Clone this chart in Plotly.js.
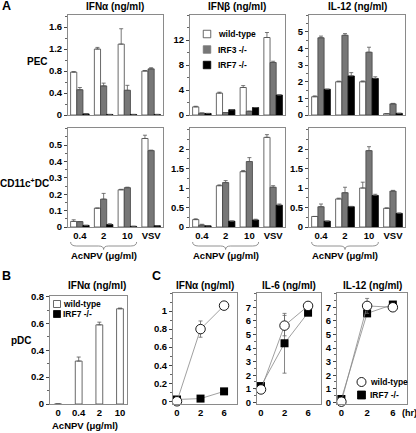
<!DOCTYPE html>
<html><head><meta charset="utf-8">
<script src="https://cdn.plot.ly/plotly-3.0.1.min.js"></script>
<style>html,body{margin:0;padding:0;background:#fff}#chart{width:416px;height:433px}</style>
</head><body><div id="chart"></div>
<script>
// ---------- DATA ----------
const doses = ['0.4', '2', '10', 'VSV'];
// PEC
const pecIfnaWt = [0.78, 1.20, 1.29, 0.80];   const pecIfnaWtErr = [0.01, 0.03, 0.28, 0.01];
const pecIfnaIrf3 = [0.46, 0.53, 0.45, 0.84]; const pecIfnaIrf3Err = [0.04, 0.05, 0.09, 0.02];
const pecIfnaIrf7 = [0.02, 0.01, 0.01, 0.01]; const pecIfnaIrf7Err = [0, 0, 0, 0];
const pecIfnbWt = [1.3, 3.5, 4.4, 12.4];      const pecIfnbWtErr = [0.1, 0.15, 0.3, 0.8];
const pecIfnbIrf3 = [0.3, 0.4, 0.6, 8.4];     const pecIfnbIrf3Err = [0, 0, 0, 0.2];
const pecIfnbIrf7 = [0.25, 0.85, 1.2, 3.2];   const pecIfnbIrf7Err = [0, 0, 0, 0];
const pecIl12Wt = [1.1, 2.0, 2.0, 0.08];      const pecIl12WtErr = [0.05, 0.04, 0.05, 0];
const pecIl12Irf3 = [4.65, 4.8, 3.78, 0.67];  const pecIl12Irf3Err = [0.1, 0.1, 0.3, 0.03];
const pecIl12Irf7 = [1.55, 2.35, 2.2, 0.1];   const pecIl12Irf7Err = [0, 0.2, 0.1, 0];
// CD11c+ DC
const dcIfnaWt = [0.034, 0.115, 0.227, 0.54];  const dcIfnaWtErr = [0.01, 0, 0.003, 0.02];
const dcIfnaIrf3 = [0.033, 0.17, 0.24, 0.466]; const dcIfnaIrf3Err = [0, 0.035, 0.003, 0.003];
const dcIfnaIrf7 = [0.01, 0.015, 0.004, 0.008];const dcIfnaIrf7Err = [0, 0.005, 0, 0];
const dcIfnbWt = [0.19, 1.06, 1.42, 2.3];      const dcIfnbWtErr = [0.02, 0.02, 0.03, 0.07];
const dcIfnbIrf3 = [0.05, 1.14, 1.68, 1.02];   const dcIfnbIrf3Err = [0.02, 0.05, 0.1, 0.04];
const dcIfnbIrf7 = [0.03, 0.15, 0.18, 0.56];   const dcIfnbIrf7Err = [0, 0, 0.02, 0.03];
const dcIl12Wt = [0.27, 0.72, 1.0, 0.48];      const dcIl12WtErr = [0, 0.02, 0.15, 0.01];
const dcIl12Irf3 = [0.52, 0.88, 1.96, 0.92];   const dcIl12Irf3Err = [0.07, 0.14, 0.1, 0.02];
const dcIl12Irf7 = [0.15, 0.52, 0.81, 0.35];   const dcIl12Irf7Err = [0, 0.01, 0.03, 0.01];
// B: pDC
const pdcDoses = ['0', '0.4', '2', '10'];
const pdcIfnaWt = [0, 0.32, 0.59, 0.71];       const pdcIfnaWtErr = [0, 0.03, 0.02, 0.005];
// C: time course
const hours = ['0', '2', '6'];
const cIfnaWt = [0.0, 0.80, 1.06];   const cIfnaWtErr = [0, 0.09, 0.03];
const cIfnaIrf7 = [0.02, 0.03, 0.11]; const cIfnaIrf7Err = [0, 0, 0];
const cIl6Wt = [0.95, 5.65, 7.1];    const cIl6WtErr = [0, 0.75, 0];
const cIl6Irf7 = [1.2, 4.35, 6.6];   const cIl6Irf7Err = [0, 2.2, 0.1];
const cIl12Wt = [0.05, 7.1, 7.0];    const cIl12WtErr = [0, 0.55, 0];
const cIl12Irf7 = [0.25, 6.55, 7.2]; const cIl12Irf7Err = [0, 0, 0.2];

// ---------- LAYOUT HELPERS ----------
const FONT = '"Liberation Sans", Arial, Helvetica, sans-serif';
const W = 416, H = 433;
const fx = v => v / W, fy = v => 1 - v / H;
const bf = (s) => ({family: FONT, size: s, color: '#000', weight: 'bold'});
const traces = [];
const layout = {
  width: W, height: H, margin: {l: 0, r: 0, t: 0, b: 0},
  paper_bgcolor: '#fff', plot_bgcolor: '#fff', showlegend: false,
  barmode: 'group', bargap: 0.22, bargroupgap: 0,
  font: {family: FONT, size: 10}, annotations: [], shapes: []
};
function ann(text, x, y, size, xanchor, extra) {
  layout.annotations.push(Object.assign({text, x: fx(x), y: fy(y), xref: 'paper', yref: 'paper',
    xanchor: xanchor || 'center', yanchor: 'middle', showarrow: false, font: bf(size)}, extra || {}));
}
function axes(n, xpx, ypx, xo, yo) {
  const s = n === 1 ? '' : n;
  layout['xaxis' + s] = Object.assign({domain: [fx(xpx[0]), fx(xpx[1])], anchor: 'y' + s,
    showline: true, mirror: true, linecolor: '#8a8a8a', linewidth: 1, showgrid: false, zeroline: false,
    ticks: '', tickfont: bf(9.5), fixedrange: true}, xo);
  layout['yaxis' + s] = Object.assign({domain: [fy(ypx[1]), fy(ypx[0])], anchor: 'x' + s,
    showline: true, mirror: true, linecolor: '#8a8a8a', linewidth: 1, showgrid: false, zeroline: false,
    ticks: 'outside', ticklen: 3, tickwidth: 1, tickcolor: '#444', tickfont: bf(9.5), fixedrange: true}, yo);
  return s;
}
const zeros = a => a.map(() => 0);
const COLS = {wt: '#ffffff', irf3: '#777777', irf7: '#000000'};
function barSet(s, cats, y, err, col, name, width) {
  const t = {type: 'bar', name, x: cats, y, xaxis: 'x' + s, yaxis: 'y' + s,
    marker: {color: col, line: {color: col === '#000000' ? '#000' : '#444', width: 0.8}},
    error_y: {type: 'data', symmetric: false, array: err, arrayminus: zeros(err), color: '#555', thickness: 0.8, width: 2},
    hoverinfo: 'y'};
  if (width) t.width = width;
  traces.push(t);
}

const cols = [[68, 163], [190, 285], [309, 405]];
const row1 = [15, 115], row2 = [128, 227];
const barPanels = [
  {x: cols[0], y: row1, r: [0, 1.82], tv: [0, 0.4, 0.8, 1.2, 1.6], md: 0.2, d: [pecIfnaWt, pecIfnaWtErr, pecIfnaIrf3, pecIfnaIrf3Err, pecIfnaIrf7, pecIfnaIrf7Err], lab: false},
  {x: cols[1], y: row1, r: [0, 16], tv: [0, 4, 8, 12], md: 2, d: [pecIfnbWt, pecIfnbWtErr, pecIfnbIrf3, pecIfnbIrf3Err, pecIfnbIrf7, pecIfnbIrf7Err], lab: false},
  {x: cols[2], y: row1, r: [0, 6.02], tv: [0, 1, 2, 3, 4, 5], md: 0.5, d: [pecIl12Wt, pecIl12WtErr, pecIl12Irf3, pecIl12Irf3Err, pecIl12Irf7, pecIl12Irf7Err], lab: false},
  {x: cols[0], y: row2, r: [0, 0.604], tv: [0, 0.1, 0.2, 0.3, 0.4, 0.5], md: 0.05, d: [dcIfnaWt, dcIfnaWtErr, dcIfnaIrf3, dcIfnaIrf3Err, dcIfnaIrf7, dcIfnaIrf7Err], lab: true},
  {x: cols[1], y: row2, r: [0, 2.54], tv: [0, 0.5, 1, 1.5, 2], md: 0.25, d: [dcIfnbWt, dcIfnbWtErr, dcIfnbIrf3, dcIfnbIrf3Err, dcIfnbIrf7, dcIfnbIrf7Err], lab: true},
  {x: cols[2], y: row2, r: [0, 2.54], tv: [0, 0.5, 1, 1.5, 2], md: 0.25, d: [dcIl12Wt, dcIl12WtErr, dcIl12Irf3, dcIl12Irf3Err, dcIl12Irf7, dcIl12Irf7Err], lab: true}
];
barPanels.forEach((p, i) => {
  const s = axes(i + 1, p.x, p.y,
    {type: 'category', range: [-0.5, 3.5], showticklabels: p.lab},
    {range: p.r, tickmode: 'array', tickvals: p.tv,
     minor: {ticks: 'outside', ticklen: 2, tickcolor: '#666', dtick: p.md, tick0: 0}});
  barSet(s, doses, p.d[0], p.d[1], COLS.wt, 'wild-type');
  barSet(s, doses, p.d[2], p.d[3], COLS.irf3, 'IRF3 -/-');
  barSet(s, doses, p.d[4], p.d[5], COLS.irf7, 'IRF7 -/-');
  if (p.lab) {
    // brace under the AcNPV groups
    const u = (p.x[1] - p.x[0]) / 4, hw = u * 0.39;
    const a = p.x[0] + u * 0.5 - hw, b = p.x[0] + u * 2.5 + hw, m = p.x[0] + u * 1.5;
    const y0 = 242, y1 = 246, y2 = 249.5;
    const P = (x, y) => fx(x).toFixed(5) + ',' + fy(y).toFixed(5);
    layout.shapes.push({type: 'path', xref: 'paper', yref: 'paper', line: {color: '#777', width: 0.8},
      path: `M${P(a, y0)} Q${P(a, y1)} ${P(a + 6, y1)} L${P(m - 5, y1)} Q${P(m, y1)} ${P(m, y2)} Q${P(m, y1)} ${P(m + 5, y1)} L${P(b - 6, y1)} Q${P(b, y1)} ${P(b, y0)}`});
    ann('AcNPV (μg/ml)', m, 255, 9.5);
  }
});

// B panel
const sB = axes(7, [50, 127], [296, 404],
  {type: 'category', range: [-0.39, 3.34], showticklabels: true},
  {range: [0, 0.805], tickmode: 'array', tickvals: [0, 0.2, 0.4, 0.6, 0.8],
   minor: {ticks: 'outside', ticklen: 2, tickcolor: '#666', dtick: 0.1, tick0: 0}});
barSet(sB, pdcDoses, pdcIfnaWt, pdcIfnaWtErr, COLS.wt, 'wild-type', 0.33);

// C panels
const cPanels = [
  {x: [173, 237], r: [-0.03, 1.2], tv: [0, 0.2, 0.4, 0.6, 0.8, 1], md: 0.1, d: [cIfnaWt, cIfnaWtErr, cIfnaIrf7, cIfnaIrf7Err]},
  {x: [257, 321], r: [-0.12, 8.05], tv: [0, 1, 2, 3, 4, 5, 6, 7], md: 0.5, d: [cIl6Wt, cIl6WtErr, cIl6Irf7, cIl6Irf7Err]},
  {x: [337, 407], r: [-0.12, 8.05], tv: [0, 1, 2, 3, 4, 5, 6, 7], md: 0.5, d: [cIl12Wt, cIl12WtErr, cIl12Irf7, cIl12Irf7Err]}
];
cPanels.forEach((p, i) => {
  const s = axes(8 + i, p.x, [293, 404],
    {type: 'category', range: [-0.17, 2.55], showticklabels: true},
    {range: p.r, tickmode: 'array', tickvals: p.tv,
     minor: {ticks: 'outside', ticklen: 2, tickcolor: '#666', dtick: p.md, tick0: 0}});
  const common = {type: 'scatter', mode: 'lines+markers', x: hours, xaxis: 'x' + s, yaxis: 'y' + s,
    line: {color: '#888', width: 0.8}, cliponaxis: false};
  traces.push(Object.assign({}, common, {name: 'IRF7 -/-', y: p.d[2],
    marker: {symbol: 'square', size: 8, color: '#000', line: {color: '#000', width: 0}},
    error_y: {type: 'data', array: p.d[3], color: '#666', thickness: 0.8, width: 2}}));
  traces.push(Object.assign({}, common, {name: 'wild-type', y: p.d[0],
    marker: {symbol: 'circle', size: 9.5, color: '#fff', line: {color: '#000', width: 0.9}},
    error_y: {type: 'data', array: p.d[1], color: '#666', thickness: 0.8, width: 2}}));
});

// ---------- TEXT ----------
ann('IFNα (ng/ml)', 115, 7, 10);
ann('IFNβ (ng/ml)', 237, 7, 10);
ann('IL-12 (ng/ml)', 357, 7, 10);
ann('PEC', 37, 61, 10);
ann('CD11c<sup>+</sup>DC', 24, 183, 10);
ann('pDC', 21, 340, 10);
ann('A', 0, 6, 12.5, 'left');
ann('B', 0, 276, 12.5, 'left');
ann('C', 150, 276, 12.5, 'left');
ann('IFNα (ng/ml)', 97, 285, 10);
ann('AcNPV (μg/ml)', 85, 425, 9.5);
ann('IFNα (ng/ml)', 205, 285, 10);
ann('IL-6 (ng/ml)', 289, 285, 10);
ann('IL-12 (ng/ml)', 372, 285, 10);
ann('(hr)', 399.5, 413, 9, 'left');

// legends (swatches + labels)
function sq(cx, cy, size, fill, line) {
  layout.shapes.push({type: 'rect', xref: 'paper', yref: 'paper',
    x0: fx(cx - size / 2), x1: fx(cx + size / 2), y0: fy(cy + size / 2), y1: fy(cy - size / 2),
    fillcolor: fill, line: {color: line, width: 0.8}});
}
const legA = [['wild-type', COLS.wt, '#444'], ['IRF3 -/-', COLS.irf3, '#777'], ['IRF7 -/-', COLS.irf7, '#000']];
legA.forEach((l, i) => { const y = 34 + i * 15.5; sq(207, y, 7.5, l[1], l[2]); ann(l[0], 216, y, 8.5, 'left'); });
sq(57, 304, 7, '#fff', '#444'); ann('wild-type', 61, 304, 8.5, 'left');
sq(57, 314, 7, '#000', '#000'); ann('IRF7 -/-', 61, 314, 8.5, 'left');
layout.shapes.push({type: 'circle', xref: 'paper', yref: 'paper', x0: fx(357), x1: fx(366), y0: fy(386.5), y1: fy(377.5),
  fillcolor: '#fff', line: {color: '#000', width: 0.9}});
ann('wild-type', 367.5, 382, 8.5, 'left');
sq(361.5, 395, 8, '#000', '#000'); ann('IRF7 -/-', 367.5, 395, 8.5, 'left');

Plotly.newPlot('chart', traces, layout, {staticPlot: true, displayModeBar: false});
</script></body></html>
